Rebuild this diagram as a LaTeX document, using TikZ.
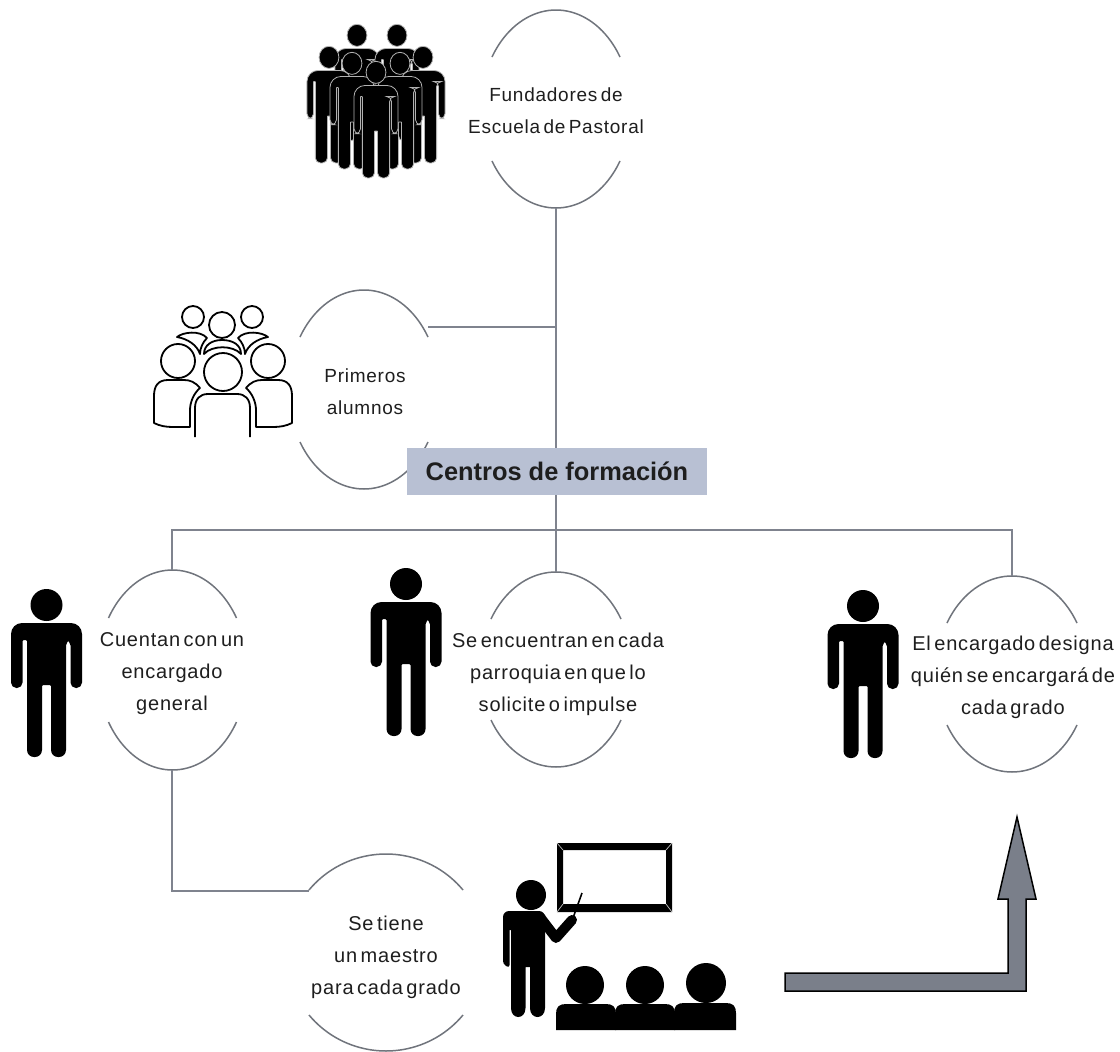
\documentclass[tikz,border=0pt]{standalone}
\usepackage{fontspec}
\setmainfont{Liberation Sans}[LetterSpace=4,WordSpace=0.55]
\newfontfamily\titlefont{Liberation Sans}
\definecolor{linegray}{HTML}{7F838E}
\definecolor{lensgray}{HTML}{70747C}
\definecolor{titlebox}{HTML}{B8C0D3}
\definecolor{arrowgray}{HTML}{7A7F8A}
\definecolor{txt}{HTML}{1E1E1E}
\newcommand{\lensarcs}[5]{% cx, top, bottom, half width, rise: arcs of one true ellipse
  \pgfmathsetmacro{\lcy}{(#2+#3)/2}
  \pgfmathsetmacro{\lb}{(#3-#2)/2}
  \pgfmathsetmacro{\lth}{acos((\lb-#5)/\lb)}
  \pgfmathsetmacro{\la}{#4/sin(\lth)}
  \draw[lensline] plot[smooth,samples=41,domain=-\lth:\lth,variable=\t] ({#1+\la*sin(\t)},{\lcy-\lb*cos(\t)});
  \draw[lensline] plot[smooth,samples=41,domain=-\lth:\lth,variable=\t] ({#1+\la*sin(\t)},{\lcy+\lb*cos(\t)});
}
\tikzset{
  lensline/.style={draw=lensgray,line width=1.5pt},
  conn/.style={draw=linegray,line width=1.6pt},
  lenstext/.style={text=txt,align=center,inner sep=0pt},
  bigtext/.style={lenstext,font=\fontsize{20}{32}\selectfont},
  midtext/.style={lenstext,font=\fontsize{19}{32}\selectfont},
  titlenode/.style={fill=titlebox,text=txt,minimum width=300pt,minimum height=47pt,inner sep=0pt,font=\titlefont\bfseries\fontsize{25.4}{28}\selectfont},
  outlinefig/.style={draw=black,line width=1.8pt,fill=white,line join=round},
  solidfig/.style={fill=black},
  groupfig/.style={fill=black,draw=white!70!black,line width=.8pt,xscale=.62,yscale=.69},
  person/.pic={
    \path[pic actions] (0,16) circle[radius=16];
    \path[pic actions,rounded corners=5.4pt]
      (35.5,70) -- (35.5,99) -- (24,99) -- (24,51) -- (19.5,51)
      [rounded corners=7pt] -- (19.5,168) -- (4.5,168) [rounded corners=1pt] -- (4.5,96) -- (-4.5,96)
      [rounded corners=7pt] -- (-4.5,168) -- (-19.5,168) [rounded corners=1pt] -- (-19.5,51) -- (-24,51)
      [rounded corners=5.4pt] -- (-24,99) -- (-35.5,99)
      [rounded corners=11pt] -- (-35.5,34) -- (35.5,34) -- cycle;
  },
  crowdperson/.pic={
    \path[pic actions] (0,15) circle[radius=16];
    \path[pic actions,rounded corners=5pt]
      (35.5,70) -- (35.5,104) -- (25,104) -- (25,50) -- (22,50)
      -- (22,168) -- (2.5,168) [rounded corners=.5pt] -- (2.5,100) -- (-2.5,100)
      [rounded corners=5pt] -- (-2.5,168) -- (-22,168) [rounded corners=.5pt] -- (-22,50) -- (-25,50)
      [rounded corners=5pt] -- (-25,104) -- (-35.5,104)
      [rounded corners=11pt] -- (-35.5,34) -- (35.5,34) -- cycle;
  }
}
\begin{document}
\begin{tikzpicture}[x=1pt,y=-1pt]
\useasboundingbox (0,0) rectangle (1120,1052);
\fill[white] (0,0) rectangle (1120,1052);
% coordinates for connector ends
\coordinate (funB) at (556,208);
\coordinate (priR) at (428,327);
\coordinate (junc) at (556,530);
\coordinate (cueT) at (172,570);
\coordinate (cueB) at (172,770);
\coordinate (encT) at (556,572);
\coordinate (desT) at (1012,576);
\coordinate (tieL) at (309,891);
% lens shapes
\lensarcs{556}{10}{208}{64}{47}
\lensarcs{364}{290}{489}{64}{47}
\lensarcs{172.5}{570}{770}{64}{48}
\lensarcs{556}{572}{767}{65}{47}
\lensarcs{1012}{576}{772}{65}{47}
\lensarcs{386}{854}{1051}{77}{36}
% title and connectors
\node[titlenode] (centros) at (557,471.5) {Centros de formación};
\draw[conn] (funB) -- (funB |- centros.north);
\draw[conn] (priR) -- (priR -| funB);
\draw[conn] (funB |- centros.south) -- (junc);
\draw[conn] (cueT) -- (cueT |- junc) -- (desT |- junc) -- (desT);
\draw[conn] (junc) -- (encT);
\draw[conn] (cueB) -- (cueB |- tieL) -- (tieL);
% texts
\node[midtext] (fun) at (556,111) {Fundadores de\\Escuela de Pastoral};
\node[midtext] (pri) at (365,391.5) {Primeros\\alumnos};
\node[bigtext] (cue) at (172,674) {Cuentan con un\\encargado\\general};
\node[bigtext] (enc) at (558,674) {Se encuentran en cada\\parroquia en que lo\\solicite o impulse};
\node[bigtext] (des) at (1013,677) {El encargado designa\\quién se encargará de\\cada grado};
\node[bigtext] (tie) at (386,957) {Se tiene\\un maestro\\para cada grado};
% single people
\pic[solidfig] at (46.5,589) {person};
\pic[solidfig] at (406,568) {person};
\pic[solidfig] at (863,590) {person};
% founders group
\pic[groupfig] at (357,25) {crowdperson};
\pic[groupfig] at (397,25) {crowdperson};
\pic[groupfig] at (329,47) {crowdperson};
\pic[groupfig] at (423,47) {crowdperson};
\pic[groupfig] at (352,53) {crowdperson};
\pic[groupfig] at (400,53) {crowdperson};
\pic[groupfig] at (376,62) {crowdperson};
% students group, outlined
\draw[outlinefig] (193,317) circle[radius=11];
\draw[outlinefig] (252,317) circle[radius=11];
\draw[outlinefig] (222,325) circle[radius=13];
\draw[outlinefig] (177,337) .. controls (183,332) and (200,330) .. (207,338) .. controls (203,342) and (200,348) .. (200,354) .. controls (197,345) and (188,339) .. (177,337) -- cycle;
\draw[outlinefig] (268,337) .. controls (262,332) and (245,330) .. (238,338) .. controls (242,342) and (245,348) .. (245,354) .. controls (248,345) and (257,339) .. (268,337) -- cycle;
\draw[outlinefig] (204,354) .. controls (204,345) and (212,340) .. (222,340) .. controls (233,340) and (241,345) .. (241,354) .. controls (233,345) and (212,345) .. (204,354) -- cycle;
\draw[outlinefig] (178,361) circle[radius=17];
\draw[outlinefig] (268,361) circle[radius=17];
\draw[outlinefig] (223,372) circle[radius=19];
\draw[outlinefig] (200,388) .. controls (195,382) and (190,380) .. (184,380) -- (168,380) .. controls (158,380) and (154,386) .. (154,396) -- (154,423) .. controls (160,426) and (166,427) .. (173,427) -- (190,427) -- (190,410) .. controls (190,402) and (194,393) .. (200,388) -- cycle;
\draw[outlinefig] (246,388) .. controls (251,382) and (256,380) .. (262,380) -- (278,380) .. controls (288,380) and (292,386) .. (292,396) -- (292,423) .. controls (286,426) and (280,427) .. (273,427) -- (256,427) -- (256,410) .. controls (256,402) and (252,393) .. (246,388) -- cycle;
\draw[outlinefig,fill=none] (195,437) -- (195,408) .. controls (195,399) and (200,394) .. (208,394) -- (237,394) .. controls (245,394) and (250,399) .. (250,408) -- (250,437);
% teacher icon
\fill[black,even odd rule] (557,843) rectangle (672,912) (563,850) rectangle (666,904);
\draw[white!75!black,line width=.7pt] (557,843) -- (563,850) (672,843) -- (666,850) (557,912) -- (563,904) (672,912) -- (666,904);
\draw[black,line width=1.6pt] (573,918) -- (582,893);
\fill[black] (531,895) circle[radius=15];
\fill[black,rounded corners=6pt] (503,930) -- (503,911) -- (545,911) -- (545,930) -- cycle;
\fill[black,rounded corners=3pt] (503,920) -- (503,964) -- (509.5,968) -- (509.5,920) -- cycle;
\fill[black] (511,915) -- (545,915) -- (545,1008) .. controls (545,1020) and (530,1020) .. (530,1008) -- (530,967) -- (525.5,967) -- (525.5,1008) .. controls (525.5,1020) and (511,1020) .. (511,1008) -- cycle;
\draw[black,line width=10pt,line cap=round,line join=round] (540,917) -- (556,938) -- (572,920);
\foreach \cx/\cy/\r in {585/985/19,645/985/19,706/983/20}{\fill[black] (\cx,\cy) circle[radius=\r];}
\foreach \l/\r/\t in {556/616/1004,615/675/1004,674/736/1003}{
  \fill[black] (\l,1030) -- (\l,{\t+10}) .. controls (\l,{\t+3}) and ({\l+3},\t) .. ({\l+10},\t) -- ({\r-10},\t) .. controls ({\r-3},\t) and (\r,{\t+3}) .. (\r,{\t+10}) -- (\r,1030) -- cycle;
}
% big bent arrow
\draw[fill=arrowgray,draw=black,line width=1.5pt,line join=miter]
  (785,973) -- (1008,973) -- (1008,899) -- (998,899) -- (1017,817) -- (1036,899) -- (1026,899) -- (1026,991) -- (785,991) -- cycle;
\end{tikzpicture}
\end{document}
